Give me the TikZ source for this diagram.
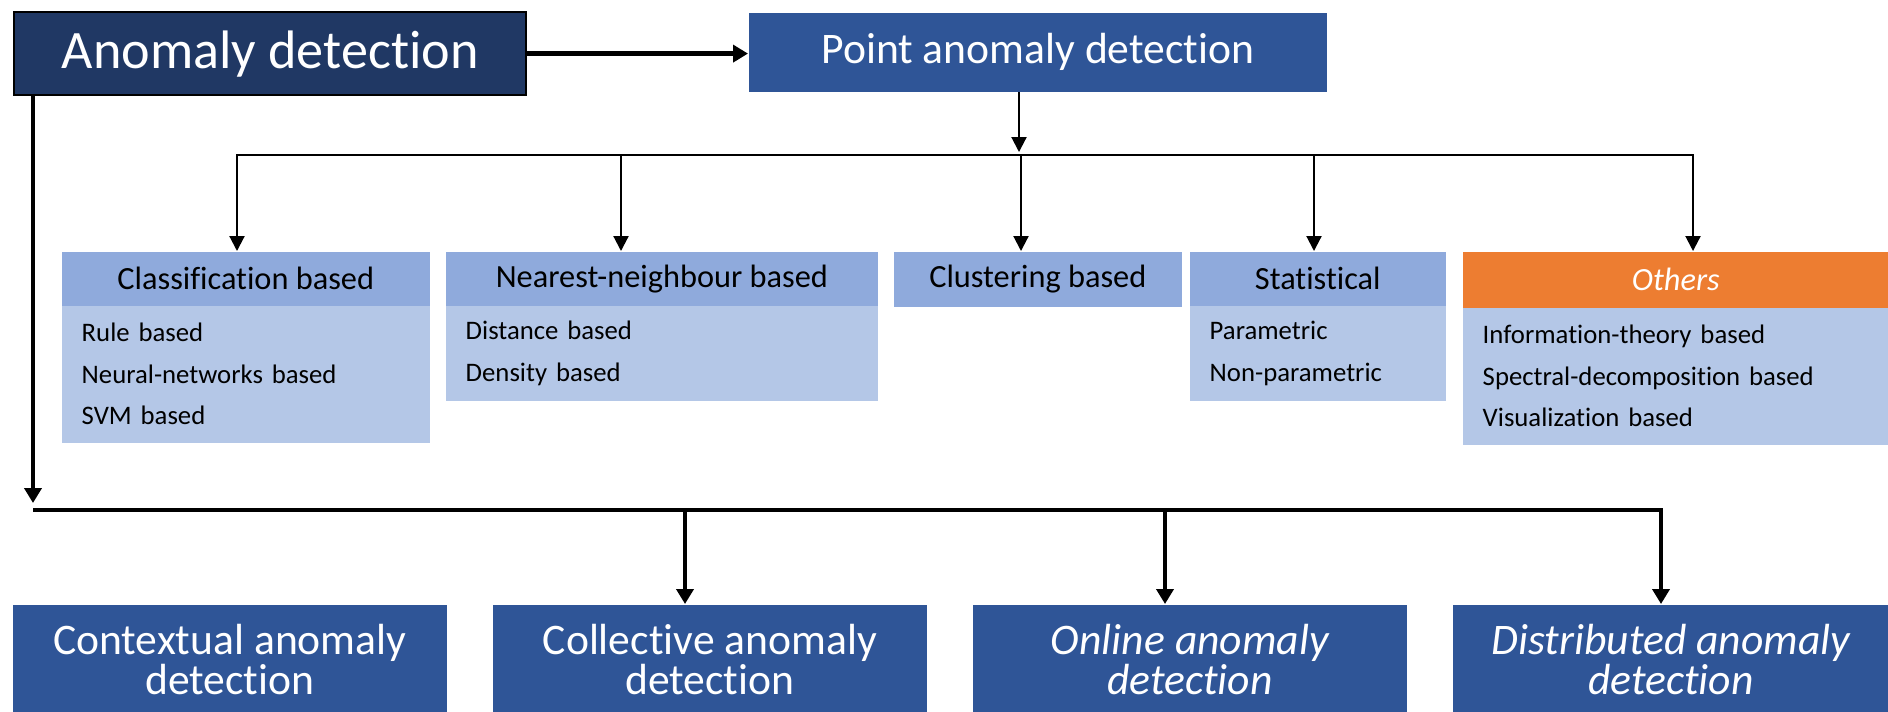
\documentclass[tikz,border=0pt]{standalone}
\usepackage{fontspec}
\setmainfont{Carlito}[Ligatures=NoCommon]
\usetikzlibrary{arrows.meta}
\definecolor{navy}{HTML}{203864}
\definecolor{royal}{HTML}{2F5597}
\definecolor{headblue}{HTML}{8FAADC}
\definecolor{bodyblue}{HTML}{B4C7E7}
\definecolor{othorange}{HTML}{ED7D31}
\begin{document}
\begin{tikzpicture}[x=0.01cm, y=-0.01cm,
    box/.style={rectangle, inner sep=0pt, anchor=north west},
    bigbox/.style={box, fill=royal, text=white, align=center, font=\fontsize{12.4}{11.4}\selectfont},
    head/.style={box, fill=headblue, minimum height=0.54cm, font=\fontsize{9.2}{11}\selectfont},
    body/.style={box, fill=bodyblue, align=left, inner xsep=0.2cm, font=\fontsize{7.6}{11.8}\selectfont},
    thinline/.style={line width=0.6pt},
    thinarrow/.style={thinline, -{Triangle[length=0.15cm, width=0.15cm]}},
    boldline/.style={line width=1.3pt},
    boldarrow/.style={boldline, -{Triangle[length=0.15cm, width=0.17cm]}}]
    \useasboundingbox (0,0) rectangle (1888,711);

    % top row
    \node[box, fill=navy, draw=black, line width=0.6pt, text=white, minimum width=5.12cm, minimum height=0.83cm,
        font=\fontsize{15.4}{18}\selectfont] (ad) at (13,11) {Anomaly detection};
    \node[bigbox, minimum width=5.78cm, minimum height=0.79cm] (pad) at (748,12) {Point anomaly detection};

    % point anomaly techniques
    \node[head, minimum width=3.68cm] (cls) at (61,251) {Classification based};
    \node[body, minimum width=3.68cm, minimum height=1.37cm, text width=3.28cm] (clsb) at (61,305)
        {Rule based\\Neural-networks based\\SVM based};
    \node[head, minimum width=4.32cm] (nn) at (445,251) {Nearest-neighbour based};
    \node[body, minimum width=4.32cm, minimum height=0.95cm, text width=3.92cm] (nnb) at (445,305)
        {Distance based\\Density based};
    \node[head, minimum width=2.88cm, minimum height=0.55cm] (clu) at (893,251) {Clustering based};
    \node[head, minimum width=2.56cm] (sta) at (1189,251) {Statistical};
    \node[body, minimum width=2.56cm, minimum height=0.95cm, text width=2.16cm] (stab) at (1189,305)
        {Parametric\\Non-parametric};
    \node[head, fill=othorange, text=white, minimum width=4.26cm, minimum height=0.56cm,
        font=\fontsize{9.2}{11}\selectfont\itshape] (oth) at (1462,251) {Others};
    \node[body, minimum width=4.26cm, minimum height=1.37cm, text width=3.86cm] (othb) at (1462,307)
        {Information-theory based\\Spectral-decomposition based\\Visualization based};

    % bottom row
    \node[bigbox, minimum width=4.34cm, minimum height=1.10cm] (ctx) at (12,604) {Contextual anomaly\\detection};
    \node[bigbox, minimum width=4.34cm, minimum height=1.10cm] (col) at (492,604) {Collective anomaly\\detection};
    \node[bigbox, minimum width=4.34cm, minimum height=1.10cm, font=\fontsize{12.4}{11.4}\selectfont\itshape] (onl) at (972,604) {Online anomaly\\detection};
    \node[bigbox, minimum width=4.36cm, minimum height=1.10cm, font=\fontsize{12.4}{11.4}\selectfont\itshape] (dis) at (1452,604) {Distributed anomaly\\detection};

    % connectors
    \draw[boldarrow] (ad.east) -- (ad.east -| pad.west);
    \coordinate (tjoin) at (1019,152);
    \draw[thinarrow] (tjoin |- pad.south) -- (tjoin);
    \foreach \x/\n in {237/cls, 621/nn, 1021/clu, 1314/sta, 1693/oth}
        \coordinate (t\n) at (\x,155);
    \draw[thinline, {Triangle[length=0.15cm, width=0.15cm]}-{Triangle[length=0.15cm, width=0.15cm]}]
        (tcls |- cls.north) -- (tcls) -- (toth) -- (toth |- oth.north);
    \foreach \n in {nn, clu, sta}
        \draw[thinarrow] (t\n) -- (t\n |- \n.north);

    \coordinate (ldrop) at (33,503);
    \coordinate (lbus) at (33,510);
    \coordinate (lcol) at (685,510);
    \coordinate (lonl) at (1165,510);
    \coordinate (ldis) at (1661,510);
    \draw[boldarrow] (ldrop |- ad.south) -- (ldrop);
    \draw[boldarrow] (lbus) -- (ldis) -- (ldis |- dis.north);
    \draw[boldarrow] (lcol) -- (lcol |- col.north);
    \draw[boldarrow] (lonl) -- (lonl |- onl.north);
\end{tikzpicture}
\end{document}
